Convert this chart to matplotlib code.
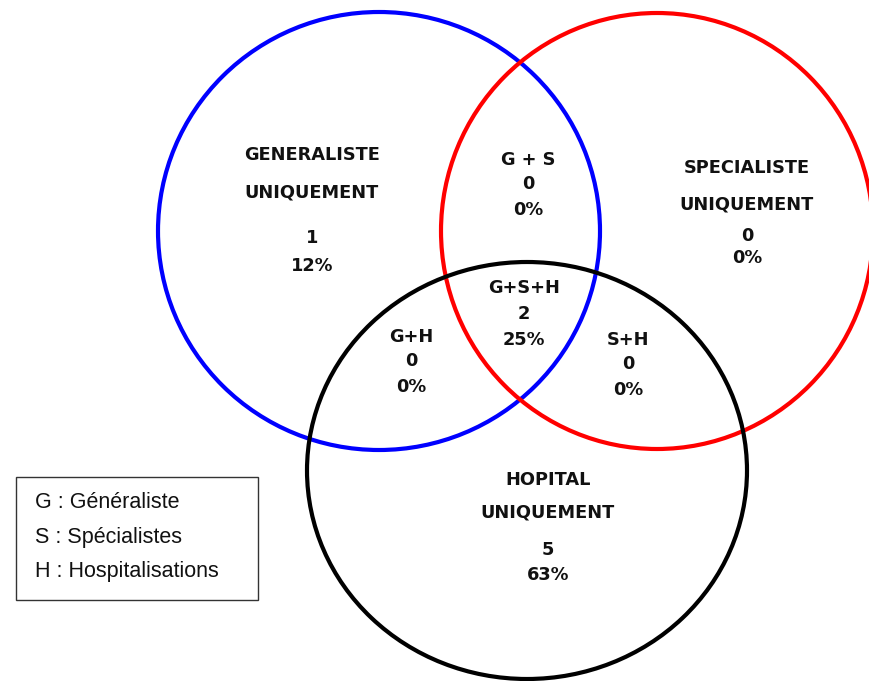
import matplotlib
matplotlib.use("Agg")
import matplotlib.pyplot as plt
from matplotlib.patches import Ellipse, Rectangle

# Venn regions: label lines, count, share
regions = ['G only', 'G+S', 'S only', 'G+S+H', 'G+H', 'S+H', 'H only']
region_titles = [
    ['GENERALISTE', 'UNIQUEMENT'],
    ['G + S'],
    ['SPECIALISTE', 'UNIQUEMENT'],
    ['G+S+H'],
    ['G+H'],
    ['S+H'],
    ['HOPITAL', 'UNIQUEMENT'],
]
counts = [1, 0, 0, 2, 0, 0, 5]
percents = ['12%', '0%', '0%', '25%', '0%', '0%', '63%']

legend_lines = ['G : Généraliste', 'S : Spécialistes', 'H : Hospitalisations']

# layout (pixel coordinates, y pointing down): centre, width, height, colour
circles = {
    'G': ((379, 231), 442, 438, '#0000ff'),
    'S': ((657, 231), 432, 436, '#ff0000'),
    'H': ((527, 470.5), 440, 417, '#000000'),
}
# y positions for each text line of each region
region_x = [312, 528, 747, 524, 411, 628, 548]
region_ys = [
    [155, 192, 238, 266],
    [160, 184, 210],
    [168, 205, 236, 258],
    [288, 314, 340],
    [337, 361, 387],
    [340, 364, 390],
    [480, 513, 550, 575],
]

fig = plt.figure(figsize=(8.7, 6.81), dpi=100)
ax = fig.add_axes([0, 0, 1, 1])
ax.set_xlim(0, 870)
ax.set_ylim(681, 0)
ax.axis('off')

for key, (centre, w, h, col) in circles.items():
    ax.add_patch(Ellipse(centre, w, h, fill=False, edgecolor=col, linewidth=3.0))

font = dict(family='DejaVu Sans', fontweight='bold', fontsize=12.8,
            ha='center', va='center', color='#111111')
for i in range(len(regions)):
    lines = region_titles[i] + [str(counts[i]), percents[i]]
    for txt, y in zip(lines, region_ys[i]):
        ax.text(region_x[i], y, txt, **font)

# legend box
ax.add_patch(Rectangle((16, 477), 242, 123, fill=False, edgecolor='#333333', linewidth=1.0))
for j, line in enumerate(legend_lines):
    ax.text(35, 503 + j * 34.5, line, family='Liberation Sans', fontsize=15.5,
            ha='left', va='center', color='#111111')

fig.savefig('out.png', dpi=100)
